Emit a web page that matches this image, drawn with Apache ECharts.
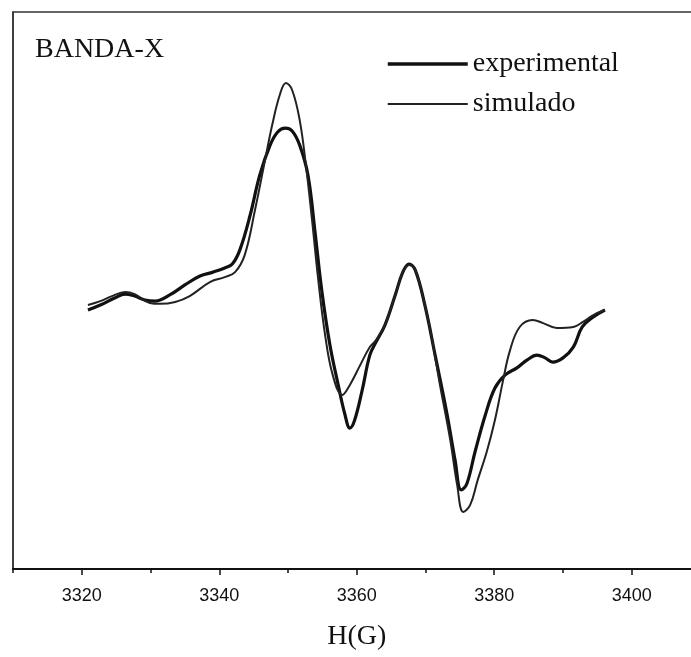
<!DOCTYPE html>
<html>
<head>
<meta charset="utf-8">
<script src="https://cdn.jsdelivr.net/npm/echarts@6/dist/echarts.min.js"></script>
<style>
html,body{margin:0;padding:0;background:#fff;}
#chart{width:691px;height:657px;}
</style>
</head>
<body>
<div id="chart"></div>
<script>
// Field H (G) and signal amplitude (arbitrary units)
var experimental = [
  [3320.9,-7.0],[3322.7,-5.2],[3324.8,-2.7],[3326.3,-1.3],[3327.7,-2.0],[3329.2,-3.4],
  [3330.7,-3.8],[3332.8,-1.6],[3335.0,2.0],[3337.2,5.2],[3339.1,6.6],[3340.8,8.1],
  [3341.9,9.5],[3343.0,14.6],[3344.5,27.1],[3345.9,41.5],[3347.4,52.2],[3348.5,56.9],
  [3349.6,58.3],[3350.6,57.3],[3351.7,52.2],[3352.9,41.5],[3353.9,21.7],[3354.9,0.2],
  [3356.1,-19.6],[3357.3,-33.9],[3358.3,-44.7],[3359.0,-49.4],[3359.7,-46.5],[3360.8,-35.7],
  [3361.9,-23.2],[3362.8,-18.5],[3364.1,-12.4],[3365.6,-1.6],[3366.7,6.6],[3367.6,9.5],
  [3368.5,7.4],[3369.9,-5.2],[3371.4,-23.2],[3373.1,-44.0],[3374.3,-60.9],[3375.2,-71.6],
  [3376.0,-69.5],[3377.2,-58.0],[3378.7,-44.7],[3380.1,-35.0],[3381.6,-30.3],[3383.3,-27.8],
  [3384.8,-24.9],[3386.2,-23.2],[3387.4,-24.2],[3388.5,-25.7],[3390.0,-24.2],[3391.5,-20.3],
  [3392.8,-13.1],[3394.4,-9.5],[3396.1,-7.0]
];
var simulado = [
  [3320.9,-5.2],[3322.7,-3.8],[3324.4,-2.0],[3326.3,-0.5],[3327.7,-1.3],[3329.9,-4.5],
  [3331.4,-4.8],[3333.6,-4.1],[3335.7,-2.0],[3338.7,3.1],[3340.8,4.8],[3342.3,6.6],
  [3343.7,12.7],[3345.2,28.9],[3346.7,47.3],[3347.7,59.4],[3348.8,70.2],[3349.7,74.5],
  [3350.6,72.0],[3351.7,61.2],[3352.6,45.1],[3353.5,25.3],[3354.4,3.8],[3355.4,-16.0],
  [3356.5,-30.3],[3357.9,-37.5],[3359.0,-33.9],[3360.5,-26.8],[3361.9,-20.3],[3362.8,-17.8],
  [3364.1,-12.4],[3365.6,-1.6],[3366.7,6.6],[3367.6,9.2],[3368.5,7.4],[3369.2,2.0],
  [3370.7,-14.2],[3372.1,-33.9],[3373.6,-53.7],[3374.6,-69.8],[3375.5,-79.5],[3376.5,-77.0],
  [3377.6,-68.0],[3378.9,-58.0],[3380.1,-46.5],[3381.3,-32.1],[3382.3,-21.4],[3383.7,-13.1],
  [3385.6,-10.6],[3387.1,-11.7],[3389.1,-13.5],[3391.5,-13.1],[3392.9,-11.3],[3394.4,-8.8],
  [3396.1,-7.0]
];
var seriesNames = ['experimental', 'simulado'];
var titleText = 'BANDA-X';
var xAxisName = 'H(G)';
var xMin = 3310, xMax = 3410;
var tickInterval = 20; // counted from xMin: 3310, 3330, ... ; minor ticks fall on 3320, 3340, ...

var chart = echarts.init(document.getElementById('chart'), null, {renderer: 'canvas'});
chart.setOption({
  backgroundColor: '#ffffff',
  animation: false,
  title: {
    text: titleText,
    left: 35, top: 36, padding: 0,
    textStyle: {fontFamily: 'Liberation Serif', fontSize: 28, fontWeight: 'normal', color: '#111'}
  },
  legend: {
    data: [
      {name: seriesNames[0], lineStyle: {width: 3.5}},
      {name: seriesNames[1], lineStyle: {width: 2}}
    ],
    orient: 'vertical',
    left: 386, top: 49, padding: 0,
    itemWidth: 80, itemHeight: 2, itemGap: 10,
    itemStyle: {opacity: 0},
    textStyle: {fontFamily: 'Liberation Serif', fontSize: 28, color: '#111', lineHeight: 30}
  },
  grid: {
    left: 13, top: 12, right: -9.5, bottom: 88,
    outerBoundsMode: 'none', containLabel: false,
    show: true, borderColor: '#333', borderWidth: 1.5, backgroundColor: 'transparent'
  },
  xAxis: [
    {
      type: 'value', min: xMin, max: xMax, interval: tickInterval,
      axisLine: {show: true, onZero: false, lineStyle: {color: '#111', width: 2}},
      axisTick: {show: true, length: 4, lineStyle: {color: '#111', width: 1.5}},
      minorTick: {show: true, splitNumber: 2, length: 6, lineStyle: {color: '#111', width: 1.5}},
      splitLine: {show: false},
      axisLabel: {show: false}
    },
    {
      type: 'value', min: xMin, max: xMax, position: 'bottom',
      name: xAxisName, nameLocation: 'middle', nameGap: 54,
      nameTextStyle: {fontFamily: 'Liberation Serif', fontSize: 28, color: '#111'},
      axisLine: {show: false, onZero: false},
      axisTick: {show: false}, splitLine: {show: false},
      axisLabel: {
        margin: 18, fontFamily: 'Liberation Sans', fontSize: 18, color: '#111',
        formatter: function (v) { return (v % 20 === 0 && v > xMin && v < xMax) ? String(v) : ''; }
      }
    }
  ],
  yAxis: {
    type: 'value', min: -100, max: 100,
    axisLine: {show: true, onZero: false, lineStyle: {color: '#333', width: 1.5}},
    axisTick: {show: false}, axisLabel: {show: false}, splitLine: {show: false}
  },
  series: [
    {
      name: seriesNames[0], type: 'line', data: experimental, smooth: 0.4,
      showSymbol: false, symbol: 'none',
      lineStyle: {color: '#111', width: 3.2}, itemStyle: {color: '#111'}
    },
    {
      name: seriesNames[1], type: 'line', data: simulado, smooth: 0.4,
      showSymbol: false, symbol: 'none',
      lineStyle: {color: '#222', width: 2}, itemStyle: {color: '#222'}
    }
  ]
});
</script>
</body>
</html>
